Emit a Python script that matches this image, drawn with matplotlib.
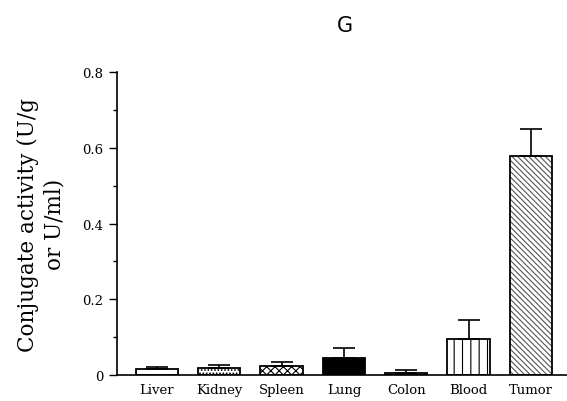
import matplotlib.pyplot as plt
import matplotlib as mpl

organs = ['Liver', 'Kidney', 'Spleen', 'Lung', 'Colon', 'Blood', 'Tumor']
activity = [0.016, 0.019, 0.023, 0.044, 0.005, 0.096, 0.579]
sd = [0.006, 0.008, 0.010, 0.028, 0.007, 0.049, 0.071]
fills = ['white', 'white', 'white', 'black', 'white', 'white', 'white']
hatches = ['', '.....', 'xxxx', '', '', '||', '\\\\\\\\\\\\']
hatch_colors = ['black', 'black', 'black', 'black', 'black', 'black', '#555555']

mpl.rcParams['hatch.linewidth'] = 0.8

fig = plt.figure(figsize=(5.67, 4.02), dpi=100)
ax = fig.add_axes([0.206, 0.065, 0.794, 0.753])

x = range(len(organs))
# fill + hatch first, then the black outline on top
ax.bar(x, activity, width=0.68, color=fills, edgecolor=hatch_colors, linewidth=0,
       hatch=hatches, zorder=2)
ax.bar(x, activity, width=0.68, color='none', edgecolor='black', linewidth=1.3,
       zorder=3)
ax.errorbar(x, activity, yerr=[[0] * len(sd), sd], fmt='none', ecolor='black',
            elinewidth=1.2, capsize=8, capthick=1.2, zorder=4)

ax.set_xlim(-0.645, 6.58)
ax.set_ylim(0, 0.8)
ax.set_yticks([0, 0.2, 0.4, 0.6, 0.8])
ax.set_yticklabels(['0', '0.2', '0.4', '0.6', '0.8'], family='DejaVu Serif', fontsize=9.5)
ax.set_yticks([0.1, 0.3, 0.5, 0.7], minor=True)
ax.set_xticks(list(x))
ax.set_xticklabels(organs, family='DejaVu Serif', fontsize=9.5)
ax.tick_params(axis='x', length=0, pad=6)
ax.tick_params(axis='y', which='major', length=6, width=1)
ax.tick_params(axis='y', which='minor', length=3, width=1)

for s in ['top', 'right']:
    ax.spines[s].set_visible(False)
ax.spines['left'].set_linewidth(1.2)
ax.spines['bottom'].set_linewidth(1.2)

ax.set_ylabel('Conjugate activity (U/g\nor U/ml)', family='DejaVu Serif',
              fontsize=15.5, labelpad=12, linespacing=1.3)
fig.text(0.609, 0.935, 'G', ha='center', va='center', fontsize=15, family='DejaVu Sans')

fig.savefig('out.png', dpi=100)
